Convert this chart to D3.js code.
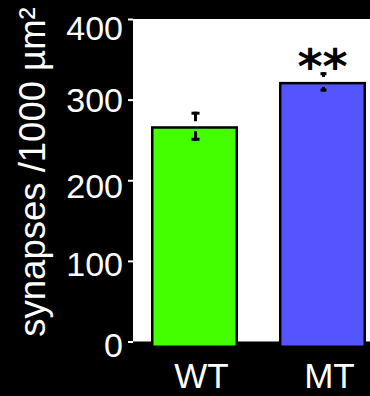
<!DOCTYPE html>
<html lang="en">
<head>
    <meta charset="UTF-8">
    <title>Synapse density</title>
    <style>
        body {
            margin: 0;
            background: #000;
            overflow: hidden;
        }

        .axis text {
            font-family: "Liberation Sans", Arial, sans-serif;
            font-size: 34px;
            fill: #fff;
        }

        .axis line {
            stroke: #fff;
            stroke-width: 2px;
        }

        .label {
            font-family: "Liberation Sans", Arial, sans-serif;
            fill: #fff;
        }
    </style>
</head>
<body>
    <div id="chart"></div>
    <script src="https://d3js.org/d3.v7.min.js"></script>
    <script>
    // values
    const groups = ["WT", "MT"];
    const means = [267, 322];
    const errors = [18, 12];
    const colors = ["#44ff00", "#5555ff"];
    const yTicks = [0, 100, 200, 300, 400];
    const yTitle = "synapses /1000 µm²";
    const stars = ["", "**"];

    const width = 370;
    const height = 396;
    const plotLeft = 133;

    const svg = d3.select("#chart").append("svg")
        .attr("width", width)
        .attr("height", height)
        .style("display", "block");

    svg.append("rect")
        .attr("width", width)
        .attr("height", height)
        .attr("fill", "#000");

    const y = d3.scaleLinear().domain([0, 400]).range([341.5, 19]);
    const x = d3.scaleBand().domain(groups).range([151, 366])
        .paddingInner(0.32).paddingOuter(0);

    // white plot area
    svg.append("rect")
        .attr("x", plotLeft)
        .attr("y", y(400))
        .attr("width", width - plotLeft)
        .attr("height", y(0) - y(400))
        .attr("fill", "#fff");

    // bars
    const sw = 2.5;
    svg.selectAll(".bar")
        .data(groups)
        .join("rect")
        .attr("class", "bar")
        .attr("x", d => x(d) + sw / 2)
        .attr("y", (d, i) => y(means[i]) + sw / 2)
        .attr("width", x.bandwidth() - sw)
        .attr("height", (d, i) => y(0) - y(means[i]) + 4)
        .attr("fill", (d, i) => colors[i])
        .attr("stroke", "#000")
        .attr("stroke-width", sw);

    // error bars, with a small gap where they cross the bar top
    const capW = [8, 6];
    groups.forEach((g, i) => {
        const cx = x(g) + x.bandwidth() / 2 + 1;
        const top = y(means[i]);
        const hi = y(means[i] + errors[i]);
        const lo = y(means[i] - errors[i]);
        const eb = svg.append("g").attr("fill", "#000");
        eb.append("rect")
            .attr("x", cx - capW[i] / 2).attr("y", hi)
            .attr("width", capW[i]).attr("height", 3);
        eb.append("rect")
            .attr("x", cx - 1.5).attr("y", hi)
            .attr("width", 3).attr("height", Math.max(0, top - 5 - hi));
        eb.append("rect")
            .attr("x", cx - capW[i] / 2).attr("y", lo - 3)
            .attr("width", capW[i]).attr("height", 3);
        eb.append("rect")
            .attr("x", cx - 1.5).attr("y", top + 5)
            .attr("width", 3).attr("height", Math.max(0, lo - top - 5));
    });

    // significance stars
    svg.selectAll(".star")
        .data(groups)
        .join("text")
        .attr("class", "star")
        .attr("x", d => x(d) + x.bandwidth() / 2)
        .attr("y", (d, i) => y(means[i] + errors[i]) + 11)
        .attr("text-anchor", "middle")
        .style("font-family", "'DejaVu Sans', sans-serif")
        .style("font-weight", "bold")
        .style("font-size", "48px")
        .style("fill", "#000")
        .text((d, i) => stars[i]);

    // y axis
    const labelDy = { 0: "0.45em", 100: "0.42em", 200: "0.5em", 300: "0.36em", 400: "0.6em" };
    const yAxis = d3.axisLeft(y).tickValues(yTicks).tickSize(5).tickPadding(5);
    const ga = svg.append("g")
        .attr("class", "axis")
        .attr("transform", `translate(${plotLeft},0)`)
        .call(yAxis);
    ga.select(".domain").remove();
    ga.selectAll("text").attr("dy", d => labelDy[d]);

    // x labels
    svg.selectAll(".xlab")
        .data(groups)
        .join("text")
        .attr("class", "label")
        .attr("x", d => x(d) + x.bandwidth() / 2 + 7)
        .attr("y", 388)
        .attr("text-anchor", "middle")
        .style("font-size", "35px")
        .text(d => d);

    // y title
    svg.append("text")
        .attr("class", "label")
        .attr("transform", "translate(45,172) rotate(-90)")
        .attr("text-anchor", "middle")
        .style("font-size", "36.5px")
        .text(yTitle);
    </script>
</body>
</html>
